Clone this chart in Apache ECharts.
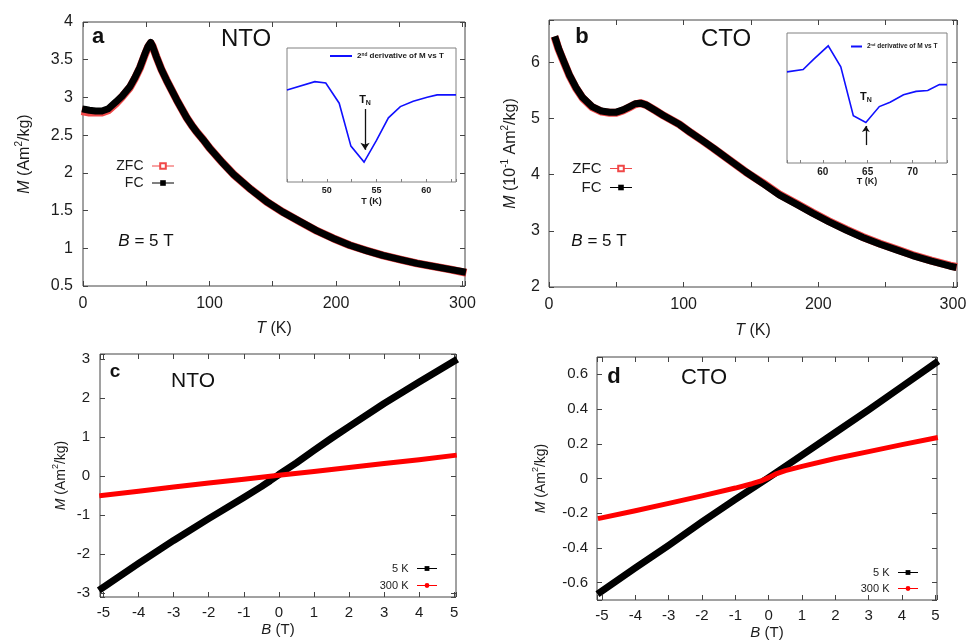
<!DOCTYPE html>
<html><head><meta charset="utf-8">
<script src="https://cdn.jsdelivr.net/npm/echarts@6.0.0/dist/echarts.min.js"></script>
<style>html,body{margin:0;padding:0;background:#fff}#c{width:969px;height:640px}</style>
</head><body><div id="c"></div>
<script>
// ---------- data ----------
// Panel a: NTO, M (Am2/kg) vs T (K), B = 5 T
const ntoTemp = [2,5,10,15,20,26,31,37,41,45,49,51.5,53.5,55,58,62,66,70,74,78,82,86,90,95,100,110,119,132,145,158,172,185,198,211,224,237,251,264,277,290,300];
const ntoFC   = [2.84,2.83,2.82,2.82,2.85,2.94,3.02,3.14,3.26,3.40,3.58,3.68,3.73,3.68,3.54,3.37,3.23,3.10,2.97,2.85,2.73,2.63,2.54,2.44,2.33,2.14,1.98,1.79,1.62,1.48,1.35,1.23,1.13,1.04,0.97,0.905,0.85,0.80,0.76,0.72,0.69];
const ntoZFC  = [2.81,2.80,2.80,2.80,2.83,2.92,3.01,3.13,3.25,3.39,3.57,3.67,3.72,3.68,3.54,3.37,3.23,3.10,2.97,2.85,2.73,2.63,2.54,2.44,2.33,2.14,1.98,1.79,1.62,1.48,1.35,1.23,1.13,1.04,0.97,0.905,0.85,0.80,0.76,0.72,0.685];
// Panel b: CTO, M (10^-1 Am2/kg) vs T (K)
const ctoTemp = [5,7,10,15,20,25,32,39,45,50,55,60,64,68,72,79,85,91,97,105,113,122,134,146,159,171,184,196,208,221,233,246,258,270,284,298,300];
const ctoFC   = [6.40,6.25,6.07,5.78,5.55,5.37,5.21,5.13,5.11,5.11,5.15,5.21,5.26,5.27,5.24,5.14,5.05,4.97,4.89,4.75,4.62,4.47,4.26,4.05,3.84,3.64,3.47,3.31,3.16,3.01,2.88,2.76,2.66,2.56,2.46,2.37,2.36];
const ctoZFC  = [6.39,6.24,6.06,5.77,5.54,5.36,5.20,5.12,5.10,5.10,5.14,5.20,5.25,5.27,5.24,5.14,5.05,4.97,4.89,4.75,4.62,4.47,4.26,4.05,3.85,3.65,3.48,3.32,3.17,3.02,2.89,2.77,2.67,2.57,2.47,2.38,2.37];
// Insets: 2nd derivative of M vs T (arbitrary units)
const insetNtoT = [46.0,48.8,49.9,51.25,52.43,53.75,55.0,56.2,57.4,58.7,60.1,61.1,62.4,63.0];
const insetNtoD = [68.7,74.9,73.9,58.8,26.8,14.9,31.0,47.9,56.3,60.3,63.3,65.0,65.0,65.0];
const insetCtoT = [56.0,57.8,58.96,60.6,62.0,63.4,64.8,66.3,67.5,69.0,70.4,71.7,73.0,73.85];
const insetCtoD = [70.1,71.9,79.7,90.1,74.0,36.4,31.2,43.4,46.8,52.5,55.1,55.8,60.3,60.3];
// Panel c: NTO, M vs B
const ntoField5K   = [-5.05,-4,-3,-2,-1,-0.5,-0.25,0,0.25,0.5,0.75,1,1.5,2,3,4,5];
const nto5K        = [-2.88,-2.24,-1.65,-1.09,-0.55,-0.27,-0.12,0.04,0.19,0.34,0.50,0.66,0.97,1.27,1.86,2.41,2.95];
const ntoField300K = [-5.05,-4,-3,-2,-1,0,1,2,3,4,5];
const nto300K      = [-0.50,-0.39,-0.28,-0.18,-0.08,0.02,0.12,0.22,0.32,0.42,0.53];
// Panel d: CTO, M vs B
const ctoField5K   = [-5.05,-4,-3,-2,-1,0,1,2,3,4,5];
const cto5K        = [-0.655,-0.515,-0.385,-0.25,-0.12,0.005,0.135,0.265,0.395,0.53,0.665];
const ctoField300K = [-5.05,-4,-3,-2,-1,-0.5,-0.2,0,0.2,0.5,1,2,3,4,5];
const cto300K      = [-0.228,-0.186,-0.143,-0.10,-0.055,-0.03,-0.012,0.005,0.025,0.045,0.07,0.115,0.155,0.195,0.233];
// T_N annotations in inset data coordinates
const tnNto = {t:53.85, label:61, from:54.5, to:24};
const tnCto = {t:64.8, label:51, from:13.8, to:28.5};

// ---------- helpers ----------
const FONT = '"Liberation Sans", Arial, Helvetica, sans-serif';
const INK = '#1c1c1c';
const FRAME = '#444';
const zip = (a, b) => a.map((v, i) => [v, b[i]]);
const near = (v, s) => Math.abs(v / s - Math.round(v / s)) < 1e-6;
const fHundred = v => near(v, 100) ? String(Math.round(v)) : '';
const fHalf = v => near(v, 0.5) ? String(Math.round(v * 10) / 10) : '';
const fInt = v => near(v, 1) ? String(Math.round(v) || 0) : '';
const fFifth = v => near(v, 0.2) ? (Math.abs(v) < 1e-9 ? '0' : (Math.round(v * 10) / 10).toFixed(1)) : '';
const fFive = v => near(v, 5) ? String(Math.round(v)) : '';

function label(size, margin, fmt, bold) {
  return {show: true, color: INK, fontFamily: FONT, fontSize: size, fontWeight: bold ? 'bold' : 'normal', margin, formatter: fmt};
}
function tick(len, color) { return {show: true, inside: true, length: len, lineStyle: {color: color || FRAME, width: 1}}; }
function axis(grid, pos, min, max, step, lbl, tk, extra) {
  const o = {type: 'value', gridIndex: grid, position: pos, min, max,
    axisLine: {show: false, onZero: false}, splitLine: {show: false}, axisTick: tk || {show: false},
    axisLabel: lbl || {show: false}, nameMoveOverlap: false};
  if (step.interval != null) o.interval = step.interval;
  if (step.fixed != null) { o.minInterval = step.fixed; o.maxInterval = step.fixed; o.splitNumber = step.split || 5; }
  return Object.assign(o, extra || {});
}
function yName(text, gap, size, supSize) {
  return {name: text, nameLocation: 'middle', nameRotate: 90, nameGap: gap,
    nameTextStyle: {color: INK, fontFamily: FONT, fontSize: size, lineHeight: size + 6,
      rich: {i: {fontFamily: FONT, fontSize: size, fontStyle: 'italic', color: INK, lineHeight: size + 6},
             r: {fontFamily: FONT, fontSize: size, color: INK, lineHeight: size + 6},
             s: {fontFamily: FONT, fontSize: supSize, color: INK, verticalAlign: 'top', lineHeight: supSize}}}};
}
function xName(text, gap, size) {
  return {name: text, nameLocation: 'middle', nameGap: gap,
    nameTextStyle: {color: INK, fontFamily: FONT, fontSize: size,
      rich: {i: {fontFamily: FONT, fontSize: size, fontStyle: 'italic', color: INK},
             r: {fontFamily: FONT, fontSize: size, color: INK}}}};
}
function txt(x, y, text, size, weight) {
  return {type: 'text', x, y, z: 100, silent: true,
    style: {text, fill: '#111', fontFamily: FONT, fontSize: size, fontWeight: weight || 'normal',
      align: 'center', verticalAlign: 'middle', textAlign: 'center', textVerticalAlign: 'middle'}};
}
function bText(x, y) {
  return {type: 'text', x, y, z: 100, silent: true,
    style: {text: '{i|B}{r| = 5 T}', fill: '#111', align: 'center', verticalAlign: 'middle',
      textAlign: 'center', textVerticalAlign: 'middle',
      rich: {i: {fontFamily: FONT, fontSize: 17, fontStyle: 'italic', fill: '#111', color: '#111'},
             r: {fontFamily: FONT, fontSize: 17, fill: '#111', color: '#111'}}}};
}
function tnPoint(t, v) {
  return {coord: [t, v], symbol: 'circle', symbolSize: 1, itemStyle: {color: 'rgba(0,0,0,0)'},
    label: {show: true, position: 'inside', formatter: '{t|T}{n|N}',
      rich: {t: {fontFamily: FONT, fontSize: 11, fontWeight: 'bold', color: '#111'},
             n: {fontFamily: FONT, fontSize: 7, fontWeight: 'bold', color: '#111', verticalAlign: 'bottom', padding: [6, 0, 0, 0]}}}};
}

const grids = [
  {left: 83, top: 22, width: 382, height: 264},   // a
  {left: 549, top: 20, width: 408, height: 267},  // b
  {left: 100, top: 354, width: 356, height: 243}, // c
  {left: 597, top: 357, width: 340, height: 243}, // d
  {left: 287, top: 48, width: 169, height: 134},  // inset a
  {left: 787, top: 33, width: 160, height: 130}   // inset b
].map((g, i) => Object.assign({show: true, borderColor: i < 4 ? FRAME : '#808080', borderWidth: 1,
  backgroundColor: i < 4 ? 'transparent' : '#fff', containLabel: false, outerBoundsMode: 'none'}, g));

const xAxes = [
  axis(0, 'bottom', 0, 302, {interval: 50}, label(16, 10, fHundred), tick(5), xName('{i|T}{r| (K)}', 35, 16)),
  axis(0, 'top', 0, 302, {interval: 50}, null, tick(5)),
  axis(1, 'bottom', 0, 303, {interval: 50}, label(16, 10, fHundred), tick(5), xName('{i|T}{r| (K)}', 36, 16)),
  axis(1, 'top', 0, 303, {interval: 50}, null, tick(5)),
  axis(2, 'bottom', -5.1, 5.05, {fixed: 1, split: 10}, label(15, 8, fInt), tick(5), xName('{i|B}{r| (T)}', 25, 15)),
  axis(2, 'top', -5.1, 5.05, {fixed: 1, split: 10}, null, tick(5)),
  axis(3, 'bottom', -5.15, 5.05, {fixed: 1, split: 10}, label(15, 8, fInt), tick(5), xName('{i|B}{r| (T)}', 25, 15)),
  axis(3, 'top', -5.15, 5.05, {fixed: 1, split: 10}, null, tick(5)),
  axis(4, 'bottom', 46, 63, {fixed: 2.5, split: 7}, label(9, 4, fFive, true), tick(3, '#808080'),
    {name: 'T (K)', nameLocation: 'middle', nameGap: 15, nameTextStyle: {fontFamily: FONT, fontSize: 9, fontWeight: 'bold', color: INK}}),
  axis(5, 'bottom', 56, 73.85, {fixed: 2.5, split: 7}, label(10, 4, fFive, true), tick(3, '#808080'),
    {name: 'T (K)', nameLocation: 'middle', nameGap: 14, nameTextStyle: {fontFamily: FONT, fontSize: 9, fontWeight: 'bold', color: INK}})
];
const yAxes = [
  axis(0, 'left', 0.5, 4, {interval: 0.5}, label(16, 10, fHalf), tick(5), yName('{i|M}{r| (Am}{s|2}{r|/kg)}', 47, 16, 10)),
  axis(0, 'right', 0.5, 4, {interval: 0.5}, null, tick(5)),
  axis(1, 'left', 2, 6.75, {interval: 1}, label(16, 9, fInt), tick(5), yName('{i|M}{r| (10}{s|-1}{r| Am}{s|2}{r|/kg)}', 27, 16, 10)),
  axis(1, 'right', 2, 6.75, {interval: 1}, null, tick(5)),
  axis(2, 'left', -3.1, 3.13, {fixed: 1, split: 6}, label(15, 10, fInt), tick(5), yName('{i|M}{r| (Am}{s|2}{r|/kg)}', 29, 14, 9)),
  axis(2, 'right', -3.1, 3.13, {fixed: 1, split: 6}, null, tick(5)),
  axis(3, 'left', -0.7, 0.7, {fixed: 0.2, split: 7}, label(15, 9, fFifth), tick(5), yName('{i|M}{r| (Am}{s|2}{r|/kg)}', 46, 14, 9)),
  axis(3, 'right', -0.7, 0.7, {fixed: 0.2, split: 7}, null, tick(5)),
  axis(4, 'left', 0, 100, {interval: 20}, null, {show: false}),
  axis(5, 'left', 0, 100, {interval: 20}, null, {show: false})
];

function line(name, xi, yi, data, color, width, symbol, z) {
  return {type: 'line', name, xAxisIndex: xi, yAxisIndex: yi, data, showSymbol: false, symbol, symbolSize: 6,
    smooth: false, z, lineStyle: {color, width, cap: 'square', join: 'round'},
    itemStyle: {color}, emphasis: {disabled: true}, silent: true};
}

const series = [
  line('ZFC', 0, 0, zip(ntoTemp, ntoZFC), '#f04848', 8, 'emptyRect', 2),
  line('FC', 0, 0, zip(ntoTemp, ntoFC), '#000', 7, 'rect', 3),
  line('ZFC', 2, 2, zip(ctoTemp, ctoZFC), '#f04848', 8, 'emptyRect', 2),
  line('FC', 2, 2, zip(ctoTemp, ctoFC), '#000', 7, 'rect', 3),
  line('5 K', 4, 4, zip(ntoField5K, nto5K), '#000', 7, 'rect', 2),
  line('300 K', 4, 4, zip(ntoField300K, nto300K), '#ff0000', 5, 'circle', 3),
  line('5 K', 6, 6, zip(ctoField5K, cto5K), '#000', 7, 'rect', 2),
  line('300 K', 6, 6, zip(ctoField300K, cto300K), '#ff0000', 5, 'circle', 3),
  Object.assign(line('d2M_NTO', 8, 8, zip(insetNtoT, insetNtoD), '#1010ff', 1.6, 'none', 5), {
    lineStyle: {color: '#1010ff', width: 1.6, cap: 'butt', join: 'miter'},
    markLine: {silent: true, symbol: ['none', 'arrow'], symbolSize: 7, label: {show: false},
      lineStyle: {color: '#111', width: 1.3, type: 'solid'},
      data: [[{coord: [tnNto.t, tnNto.from]}, {coord: [tnNto.t, tnNto.to]}]]},
    markPoint: {silent: true, data: [tnPoint(tnNto.t, tnNto.label)]}}),
  Object.assign(line('d2M_CTO', 9, 9, zip(insetCtoT, insetCtoD), '#1010ff', 1.6, 'none', 5), {
    lineStyle: {color: '#1010ff', width: 1.6, cap: 'butt', join: 'miter'},
    markLine: {silent: true, symbol: ['none', 'arrow'], symbolSize: 6, label: {show: false},
      lineStyle: {color: '#111', width: 1.3, type: 'solid'},
      data: [[{coord: [tnCto.t, tnCto.from]}, {coord: [tnCto.t, tnCto.to]}]]},
    markPoint: {silent: true, data: [tnPoint(tnCto.t, tnCto.label)]}})
];

function mainLegend(names, right, top, size, gap, w, h) {
  return {data: names, orient: 'vertical', right, top, align: 'right', itemWidth: w, itemHeight: h, itemGap: gap,
    selectedMode: false, padding: 0, lineStyle: {width: 1},
    textStyle: {fontFamily: FONT, fontSize: size, color: INK, padding: [0, 4, 0, 0]}};
}
function insetLegend(name, left, top, size, w) {
  return {data: [{name, icon: 'rect'}], left, top, itemWidth: w, itemHeight: 2, selectedMode: false, padding: 0,
    formatter: () => '2{s|nd} derivative of M vs T',
    textStyle: {fontFamily: FONT, fontSize: size, fontWeight: 'bold', color: INK,
      rich: {s: {fontFamily: FONT, fontSize: size * 0.6, fontWeight: 'bold', color: INK, verticalAlign: 'top'}}}};
}

const option = {
  animation: false,
  backgroundColor: '#fff',
  grid: grids,
  xAxis: xAxes,
  yAxis: yAxes,
  series,
  legend: [
    mainLegend(['ZFC', 'FC'], 969 - 174, 159, 14, 3, 21, 7),
    mainLegend(['ZFC', 'FC'], 969 - 632, 161, 15, 4, 21, 7),
    mainLegend(['5 K', '300 K'], 969 - 437, 563, 11, 6, 19, 6),
    mainLegend(['5 K', '300 K'], 969 - 918, 567, 11, 5, 19, 6),
    insetLegend('d2M_NTO', 330, 52, 8, 22),
    insetLegend('d2M_CTO', 851, 43, 6.5, 11)
  ],
  graphic: [
    txt(98, 37, 'a', 22, 'bold'),
    txt(246, 39, 'NTO', 24),
    bText(146, 241),
    txt(582, 37, 'b', 22, 'bold'),
    txt(726, 39, 'CTO', 24),
    bText(599, 241),
    txt(115, 372, 'c', 19, 'bold'),
    txt(193, 381, 'NTO', 21),
    txt(614, 377, 'd', 22, 'bold'),
    txt(704, 378, 'CTO', 22)
  ]
};
const chart = echarts.init(document.getElementById('c'), null, {renderer: 'canvas'});
chart.setOption(option);
</script>
</body></html>
